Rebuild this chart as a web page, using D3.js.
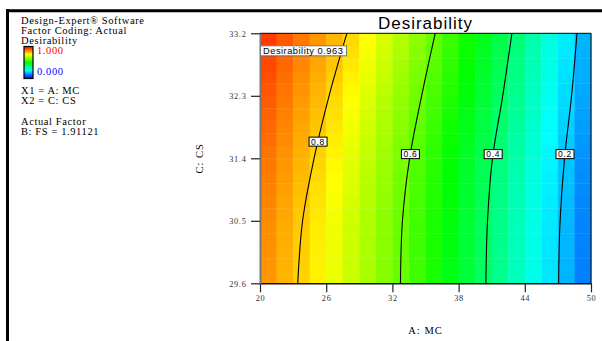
<!DOCTYPE html>
<html><head><meta charset="utf-8">
<script src="https://cdn.jsdelivr.net/npm/d3@7"></script>
<style>body{margin:0;background:#fff} svg{display:block}</style>
</head><body>
<svg id="chart" width="602" height="341"></svg>
<script>
// Axis ticks (A: MC across, C: CS up)
const mcTicks = [20, 26, 32, 38, 44, 50];
const csTicks = [29.6, 30.5, 31.4, 32.3, 33.2];

// Contour lines: MC position of each desirability level at the CS levels below
const contourLevels = [0.8, 0.6, 0.4, 0.2];
const contourCS = [29.6, 30.5, 31.4, 32.3, 33.2];
const contourMC08 = [23.42, 23.86, 24.90, 26.26, 27.87];
const contourMC06 = [32.73, 32.91, 33.56, 34.65, 35.88];
const contourMC04 = [40.47, 40.62, 41.07, 42.00, 42.83];
const contourMC02 = [47.06, 47.20, 47.60, 48.24, 48.73];
// Desirability along the left (MC = 20) and right (MC = 50) edges at the same CS levels
const edgeLowMC = [0.865, 0.877, 0.900, 0.928, 0.963];
const edgeHighMC = [0.100, 0.105, 0.118, 0.138, 0.152];
// CS value where each contour carries its label
const labelCS = [31.64, 31.46, 31.46, 31.46];

const legendLines = ["Design-Expert\u00ae Software", "Factor Coding: Actual", "Desirability"];
const factorLines = ["X1 = A: MC", "X2 = C: CS"];
const actualFactorLines = ["Actual Factor", "B: FS = 1.91121"];

const contourMC = [contourMC08, contourMC06, contourMC04, contourMC02];

const svg = d3.select("#chart");
const serif = "'Liberation Serif', 'Times New Roman', serif";
const sans = "'Liberation Sans', Arial, sans-serif";

const plot = {left: 260, right: 591, top: 33.3, bottom: 283.3};
const x = d3.scaleLinear().domain([20, 50]).range([plot.left, plot.right]);
const y = d3.scaleLinear().domain([29.6, 33.2]).range([plot.bottom, plot.top]);

const colorOf = d => d3.hsl((1 - d) * 240, 1, 0.5).toString();

// Desirability along one CS level, piecewise through the contour crossings
function levelValue(i, mc) {
  const kx = [20, ...contourMC.map(c => c[i]), 50];
  const kv = [edgeLowMC[i], ...contourLevels, edgeHighMC[i]];
  for (let k = 0; k < kx.length - 1; k++) {
    if (mc <= kx[k + 1] || k === kx.length - 2) {
      const t = (mc - kx[k]) / (kx[k + 1] - kx[k]);
      return kv[k] + t * (kv[k + 1] - kv[k]);
    }
  }
}
function desirability(mc, cs) {
  let i = 0;
  while (i < contourCS.length - 2 && cs > contourCS[i + 1]) i++;
  const t = (cs - contourCS[i]) / (contourCS[i + 1] - contourCS[i]);
  return levelValue(i, mc) * (1 - t) + levelValue(i + 1, mc) * t;
}

// Outer frame
svg.append("line").attr("x1", 7.5).attr("x2", 7.5).attr("y1", 9.3).attr("y2", 341)
  .attr("stroke", "#000").attr("stroke-width", 3);
svg.append("line").attr("x1", 6).attr("x2", 602).attr("y1", 10.8).attr("y2", 10.8)
  .attr("stroke", "#000").attr("stroke-width", 3);

// Legend text block
const leg = svg.append("g").attr("font-family", serif).attr("font-size", 10.5)
  .attr("letter-spacing", 0.6).attr("fill", "#000");
legendLines.forEach((t, i) => leg.append("text").attr("x", 21).attr("y", 24.3 + i * 10).text(t));
factorLines.forEach((t, i) => leg.append("text").attr("x", 21).attr("y", 94.3 + i * 10).text(t));
actualFactorLines.forEach((t, i) => leg.append("text").attr("x", 21).attr("y", 125 + i * 10).text(t));

const defs = svg.append("defs");
const grad = defs.append("linearGradient").attr("id", "legendGrad")
  .attr("x1", 0).attr("x2", 0).attr("y1", 0).attr("y2", 1);
[1, 0.75, 0.5, 0.25, 0].forEach(d => grad.append("stop")
  .attr("offset", (1 - d) * 100 + "%").attr("stop-color", colorOf(d)));
svg.append("rect").attr("x", 24).attr("y", 46.5).attr("width", 9).attr("height", 32)
  .attr("fill", "url(#legendGrad)").attr("stroke", "#000").attr("stroke-width", 1.2);
leg.append("text").attr("x", 37).attr("y", 54).attr("fill", "#ff0000").text((1).toFixed(3));
leg.append("text").attr("x", 37).attr("y", 74.5).attr("fill", "#0000ff").text((0).toFixed(3));

// Title
svg.append("text").attr("x", (plot.left + plot.right) / 2).attr("y", 29)
  .attr("text-anchor", "middle").attr("font-family", sans).attr("font-size", 17)
  .attr("letter-spacing", 1).attr("fill", "#000").text("Desirability");

// Coloured grid of desirability
const nCols = 20, nRows = 20;
const dMC = 30 / nCols, dCS = 3.6 / nRows;
const cells = [];
for (let i = 0; i < nCols; i++) {
  for (let j = 0; j < nRows; j++) {
    const mc0 = 20 + i * dMC, cs0 = 29.6 + j * dCS;
    cells.push({mc0, cs0, d: desirability(mc0 + dMC / 2, cs0 + dCS / 2)});
  }
}
svg.append("g").selectAll("rect").data(cells).join("rect")
  .attr("x", c => x(c.mc0))
  .attr("y", c => y(c.cs0 + dCS))
  .attr("width", c => x(c.mc0 + dMC) - x(c.mc0) + 0.4)
  .attr("height", c => y(c.cs0) - y(c.cs0 + dCS) + 0.4)
  .attr("fill", c => colorOf(c.d));

// Contour lines
defs.append("clipPath").attr("id", "plotClip").append("rect")
  .attr("x", plot.left).attr("y", plot.top)
  .attr("width", plot.right - plot.left).attr("height", plot.bottom - plot.top);
const line = d3.line().x(p => x(p.mc)).y(p => y(p.cs)).curve(d3.curveCatmullRom);
const contours = contourLevels.map((lv, k) => ({
  level: lv,
  pts: contourCS.map((cs, i) => ({cs, mc: contourMC[k][i]}))
}));
svg.append("g").attr("clip-path", "url(#plotClip)").selectAll("path").data(contours).join("path")
  .attr("d", c => line(c.pts)).attr("fill", "none").attr("stroke", "#000").attr("stroke-width", 1.1);

// Contour labels
function mcAt(pts, cs) {
  for (let i = 0; i < pts.length - 1; i++) {
    if (cs <= pts[i + 1].cs) {
      const t = (cs - pts[i].cs) / (pts[i + 1].cs - pts[i].cs);
      return pts[i].mc + t * (pts[i + 1].mc - pts[i].mc);
    }
  }
  return pts[pts.length - 1].mc;
}
const lab = svg.append("g").selectAll("g").data(contours).join("g")
  .attr("transform", (c, k) => `translate(${x(mcAt(c.pts, labelCS[k]))},${y(labelCS[k])})`);
lab.append("rect").attr("x", -9).attr("y", -4.5).attr("width", 18).attr("height", 9)
  .attr("fill", "#fff").attr("stroke", "#000").attr("stroke-width", 1);
lab.append("text").attr("text-anchor", "middle").attr("y", 3.2)
  .attr("font-family", sans).attr("font-size", 8.5).attr("letter-spacing", 0.7)
  .attr("fill", "#000").text(c => c.level.toFixed(1));

// Plot border
svg.append("line").attr("x1", plot.left).attr("x2", plot.right).attr("y1", plot.top).attr("y2", plot.top)
  .attr("stroke", "#000").attr("stroke-width", 1);
svg.append("line").attr("x1", plot.right).attr("x2", plot.right).attr("y1", plot.top).attr("y2", plot.bottom)
  .attr("stroke", "#000").attr("stroke-width", 1);

// Axes
const xAxis = svg.append("g").attr("transform", `translate(0,${plot.bottom})`)
  .call(d3.axisBottom(x).tickValues(mcTicks).tickFormat(d3.format("d")).tickSize(9).tickSizeOuter(0));
const yAxis = svg.append("g").attr("transform", `translate(${plot.left},0)`)
  .call(d3.axisLeft(y).tickValues(csTicks).tickFormat(d3.format(".1f")).tickSize(9).tickSizeOuter(0));
[xAxis, yAxis].forEach(a => {
  a.selectAll("text").attr("font-family", serif).attr("font-size", 8.3)
    .attr("letter-spacing", 0.7).attr("fill", "#333");
  a.selectAll(".tick line").attr("stroke", "#222").attr("stroke-width", 1.2);
});
xAxis.select(".domain").attr("stroke", "#111").attr("stroke-width", 1.6);
yAxis.select(".domain").attr("stroke", "#777").attr("stroke-width", 2);
xAxis.selectAll("text").attr("dy", null).attr("y", 17.5);
yAxis.selectAll("text").attr("x", -13.5).attr("dy", "0.33em");

// Axis titles
svg.append("text").attr("x", (plot.left + plot.right) / 2).attr("y", 333.5)
  .attr("text-anchor", "middle").attr("font-family", serif).attr("font-size", 10.5)
  .attr("letter-spacing", 1).attr("fill", "#000").text("A: MC");
svg.append("text").attr("transform", `translate(203,${(plot.top + plot.bottom) / 2}) rotate(-90)`)
  .attr("text-anchor", "middle").attr("font-family", serif).attr("font-size", 10.5)
  .attr("letter-spacing", 1).attr("fill", "#000").text("C: CS");

// Flag at the optimum corner
const flagMC = 20, flagCS = contourCS[contourCS.length - 1];
const flag = svg.append("g").attr("transform", `translate(${x(flagMC)},${y(flagCS)})`);
flag.append("rect").attr("x", 0.5).attr("y", 12.5).attr("width", 86).attr("height", 10)
  .attr("fill", "#fff").attr("stroke", "#777").attr("stroke-width", 1);
flag.append("text").attr("x", 3).attr("y", 20.8).attr("font-family", sans).attr("font-size", 9.3)
  .attr("letter-spacing", 0.5).attr("fill", "#000")
  .text("Desirability " + edgeLowMC[edgeLowMC.length - 1].toFixed(3));
</script>
</body></html>
